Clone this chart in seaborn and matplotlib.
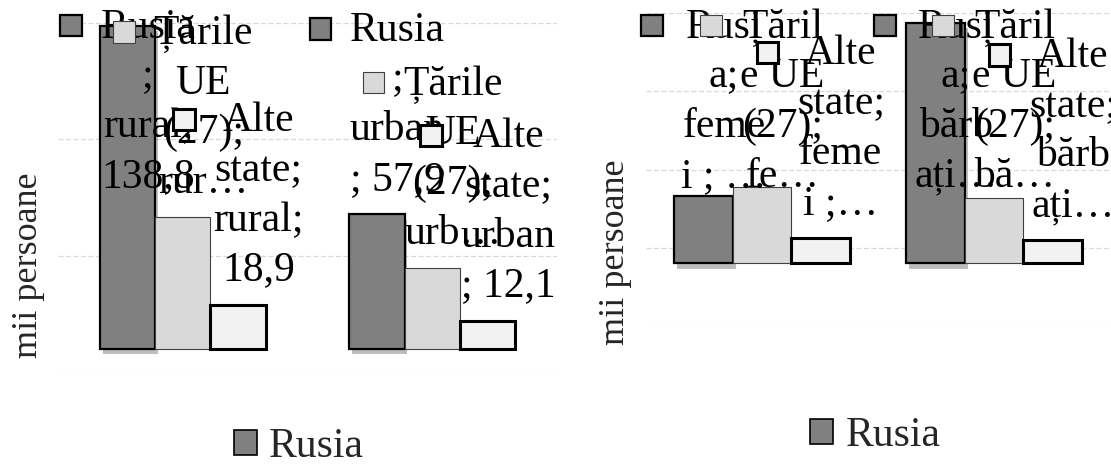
import matplotlib
matplotlib.use("Agg")
import numpy as np
import pandas as pd
import seaborn as sns
import matplotlib.pyplot as plt
import matplotlib.patheffects as pe
from matplotlib.patches import Rectangle, Patch
from matplotlib.offsetbox import AnnotationBbox, DrawingArea, TextArea, HPacker

# categories
origins = ["Rusia", "Țările UE (27)", "Alte state"]
areas = ["rural", "urban"]
sexes = ["femei", "bărbați"]

# values, mii persoane
rusia_area = [138.8, 57.9]
ue_area = [56.5, 34.7]
alte_area = [18.9, 12.1]
rusia_sex = [42.8, 153.9]
ue_sex = [49.1, 42.1]
alte_sex = [16.3, 14.7]

# data labels, wrapped / cut the way they appear in the original
rusia_area_labels = ["Rusia\n;\nrural;\n138,8", "Rusia\n;\nurban\n; 57,9"]
ue_area_labels = ["Țările\nUE\n(27);\nrur…", "Țările\nUE\n(27);\nurb…"]
alte_area_labels = ["Alte\nstate;\nrural;\n18,9", "Alte\nstate;\nurban\n; 12,1"]
rusia_sex_labels = ["Rusi\na;\nfeme\ni ; …", "Rusi\na;\nbărb\nați…"]
ue_sex_labels = ["Țăril\ne UE\n(27);\nfe…", "Țăril\ne UE\n(27);\nbă…"]
alte_sex_labels = ["Alte\nstate;\nfeme\ni ;…", "Alte\nstate;\nbărb\nați…"]

colors = ["#808080", "#d9d9d9", "#f2f2f2"]
edges = [("black", 1.6), ("#404040", 0.8), ("black", 2.2)]
FS = 30

sns.set_theme(style="white")
plt.rcParams["font.family"] = ["Liberation Serif", "DejaVu Serif"]

W, H = 1111, 466
fig = plt.figure(figsize=(W / 100, H / 100), dpi=100)
ax1 = fig.add_axes([58 / W, 1 - 372 / H, 499 / W, 349 / H])
ax2 = fig.add_axes([646 / W, 1 - 326 / H, 464 / W, 313 / H])


def make_df(cats, series):
    rows = []
    for name, vals in zip(origins, series):
        for c, v in zip(cats, vals):
            rows.append({"cat": c, "origin": name, "value": v})
    return pd.DataFrame(rows)


def label_box(text, color, ec, lw):
    key = DrawingArea(16.5, 21)
    key.add_artist(Rectangle((0.5, 0.5), 15.5, 15.5, facecolor=color,
                             edgecolor=ec, linewidth=lw))
    txt = TextArea(text, textprops=dict(fontsize=FS, multialignment="center",
                                        linespacing=1.38, color="black"))
    return HPacker(children=[key, txt], align="top", pad=0, sep=13)


def panel(ax, cats, series, labels, width, ylim, ticks, ylab_pos, leg_pos):
    df = make_df(cats, series)
    sns.barplot(data=df, x="cat", y="value", hue="origin", palette=colors,
                width=width, ax=ax, legend=False, saturation=1)
    for i, cont in enumerate(ax.containers):
        ec, lw = edges[i]
        for bar in cont:
            bar.set_edgecolor(ec)
            bar.set_linewidth(lw)
            if i == 0:
                bar.set_path_effects([pe.SimplePatchShadow(offset=(2, -4), alpha=0.3),
                                      pe.Normal()])
    ax.set_ylim(*ylim)
    ax.set_xlim(-0.5, 1.5)
    ax.set_yticks(ticks)
    ax.set_yticklabels([])
    ax.set_xticklabels([])
    ax.set_xlabel("")
    ax.tick_params(length=0)
    ax.yaxis.grid(True, color="#d9d9d9", linestyle=(0, (4, 2)), linewidth=0.9)
    ax.set_axisbelow(True)
    for s in ax.spines.values():
        s.set_visible(False)
    ax.set_ylabel("mii persoane", fontsize=26)
    ax.yaxis.set_label_coords(*ylab_pos)

    h = Patch(facecolor=colors[0], edgecolor="black", linewidth=1.2, label=origins[0])
    ax.legend(handles=[h], loc="center", bbox_to_anchor=leg_pos,
              bbox_transform=fig.transFigure, frameon=False, fontsize=FS,
              handlelength=0.55, handleheight=0.55, handletextpad=0.3)

    # data labels: above the bar, pushed down from the chart top when too tall
    for i, (cont, labs) in enumerate(zip(ax.containers, labels)):
        ec, lw = edges[i]
        for bar, text in zip(cont, labs):
            xc = bar.get_x() + bar.get_width() / 2
            ab = AnnotationBbox(label_box(text, colors[i], ec, lw),
                                (xc, bar.get_height()), xybox=(0, 11),
                                boxcoords="offset points", box_alignment=(0.5, 0),
                                frameon=False, pad=0, annotation_clip=False)
            ax.add_artist(ab)
            fig.canvas.draw()
            if ab.get_window_extent().y1 > H - 8:
                ab.remove()
                ab = AnnotationBbox(label_box(text, colors[i], ec, lw),
                                    (xc, H - 8), xycoords=("data", "figure pixels"),
                                    box_alignment=(0.5, 1), frameon=False, pad=0,
                                    annotation_clip=False)
                ax.add_artist(ab)


panel(ax1, areas, [rusia_area, ue_area, alte_area],
      [rusia_area_labels, ue_area_labels, alte_area_labels],
      0.665, (-10, 140), np.arange(-10, 141, 50), (-0.026, 0.307), (0.269, 0.041))
panel(ax2, sexes, [rusia_sex, ue_sex, alte_sex],
      [rusia_sex_labels, ue_sex_labels, alte_sex_labels],
      0.755, (-40, 160), np.arange(-40, 161, 50), (-0.030, 0.236), (0.788, 0.064))

fig.savefig("out.png", dpi=100)
